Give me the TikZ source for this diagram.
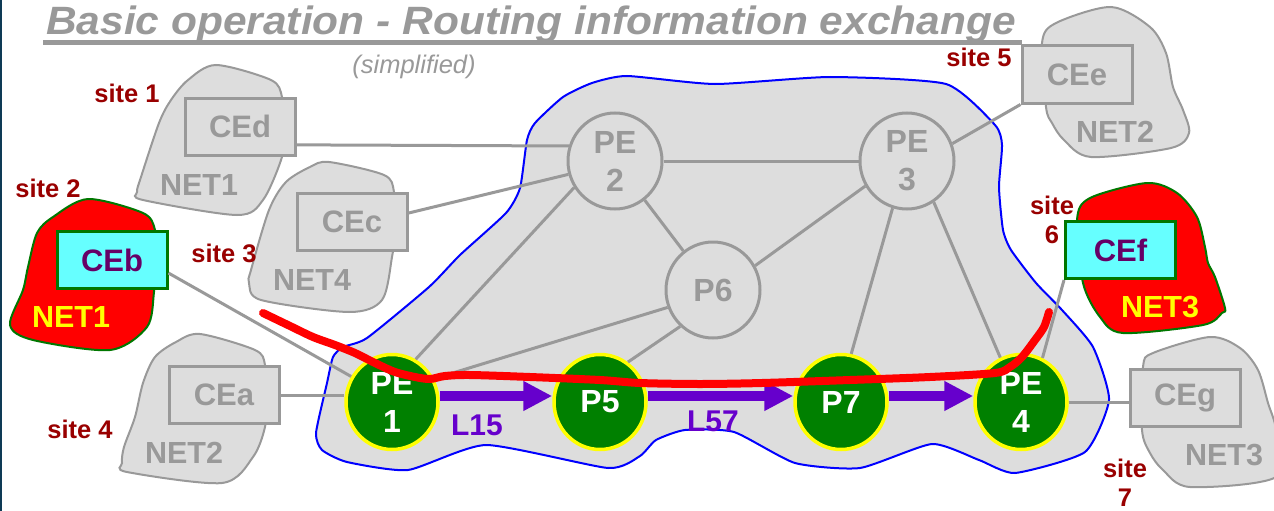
\documentclass[tikz,border=0pt]{standalone}
\usepackage{fontspec}
\setmainfont{Liberation Sans}
\usetikzlibrary{shapes.geometric,arrows.meta}
\definecolor{mgray}{HTML}{999999}
\definecolor{lgray}{HTML}{DDDDDD}
\definecolor{ggreen}{HTML}{008000}
\definecolor{dgreen}{HTML}{007700}
\definecolor{cyanb}{HTML}{66FFFF}
\definecolor{purp}{HTML}{6600CC}
\definecolor{plum}{HTML}{660066}
\definecolor{dred}{HTML}{990000}
\definecolor{yel}{HTML}{FFFF00}
\definecolor{stripc}{HTML}{0E3A55}
\definecolor{bblue}{HTML}{0000FF}
\definecolor{rred}{HTML}{FF0000}
\tikzset{
  blob/.style={fill=lgray, draw=mgray, line width=2pt},
  redblob/.style={fill=rred, draw=dgreen, line width=2pt},
  cebox/.style={rectangle, draw=mgray, fill=lgray, line width=3pt, text=mgray,
    font=\bfseries\fontsize{31}{36}\selectfont, minimum width=110pt, minimum height=57pt, inner sep=0pt},
  cebright/.style={cebox, draw=dgreen, fill=cyanb, text=plum},
  rnode/.style={ellipse, draw=mgray, line width=3pt, fill=lgray, text=mgray, align=center,
    font=\bfseries\fontsize{32}{38}\selectfont, minimum width=94pt, minimum height=96pt, inner sep=0pt},
  gnode/.style={rnode, draw=yel, line width=3.5pt, fill=ggreen, text=white, minimum width=92pt, minimum height=95pt},
  netlbl/.style={text=mgray, font=\bfseries\fontsize{30.5}{34}\selectfont, inner sep=0pt},
  netred/.style={netlbl, text=yel},
  sitelbl/.style={text=dred, font=\bfseries\fontsize{25.5}{29}\selectfont, align=center, inner sep=0pt},
  link/.style={draw=mgray, line width=3pt},
  parrow/.style={draw=purp, line width=10pt, -{Triangle[length=29pt,width=28pt]}},
  linklbl/.style={text=purp, font=\bfseries\fontsize{30}{34}\selectfont, inner sep=0pt},
  routepath/.style={draw=rred, line width=8pt, line cap=round, line join=round},
}
\begin{document}
\begin{tikzpicture}[x=1pt,y=-1pt]
\useasboundingbox (0,0) rectangle (1274,511);
\fill[white] (0,0) rectangle (1274,511);
\fill[stripc] (0,0) rectangle (2,511);

% title
\node[anchor=base west, inner sep=0pt, text=mgray, font=\bfseries\itshape\fontsize{39.5}{44}\selectfont] (title) at (46,35) {\scalebox{1.075}[1]{Basic operation - Routing information exchange}};
\draw[mgray, line width=4.5pt] (43,42.5) -- (1022,42.5);
\node[text=mgray, font=\itshape\fontsize{25.5}{30}\selectfont, inner sep=0pt] (simp) at (414,66.5) {(simplified)};

% customer site blobs
\draw[blob] plot[smooth cycle, tension=0.5] coordinates {(216,65) (271,80) (282,97) (284,130) (282,157) (263,200) (237,215) (143,200) (137,192) (141,177) (159,123) (171,100) (188,80)};
\draw[blob] plot[smooth cycle, tension=0.5] coordinates {(329,162) (384,175) (394,192) (395,230) (392,257) (382,300) (349,312) (261,300) (249,283) (251,270) (269,210) (286,182) (310,167)};
\draw[blob] plot[smooth cycle, tension=0.5] coordinates {(200,334) (255,350) (265,365) (266,400) (265,427) (253,457) (222,483) (127,472) (122,463) (124,447) (135,417) (143,383) (155,357) (176,342)};
\draw[blob] plot[smooth cycle, tension=0.5] coordinates {(1056,23) (1111,7) (1150,27) (1166,53) (1173,87) (1183,110) (1189,133) (1171,148) (1091,157) (1064,140) (1052,123) (1046,107) (1042,43)};
\draw[blob] plot[smooth cycle, tension=0.5] coordinates {(1153,353) (1210,337) (1240,348) (1258,370) (1268,403) (1276,430) (1276,477) (1190,487) (1163,470) (1150,453) (1142,430) (1143,367)};
\draw[redblob] plot[smooth cycle, tension=0.5] coordinates {(88,199) (143,213) (155,230) (156,260) (154,292) (147,327) (110,350) (33,340) (10,325) (23,290) (28,267) (37,233) (53,217)};
\draw[redblob] plot[smooth cycle, tension=0.5] coordinates {(1090,198) (1147,183) (1177,193) (1197,217) (1205,247) (1208,263) (1215,277) (1225,308) (1222,313) (1203,325) (1123,333) (1100,317) (1083,283) (1077,220)};

% provider cloud
\draw[fill=lgray, draw=bblue, line width=2pt] plot[smooth cycle, tension=0.35] coordinates {
 (627,76) (715,84) (830,77) (946,84) (995,125) (1002,145) (999,187) (1003,230) (1011,250)
 (1036,283) (1062,310) (1093,347) (1109,400) (1085,452) (1015,473) (979,460) (932,444)
 (860,468) (795,463) (734,432) (685,430) (656,440) (640,456) (608,468) (486,445) (408,470)
 (347,462) (322,450) (316,433) (327,383) (333,357) (343,347) (367,338) (429,287) (460,255)
 (506,213) (520,188) (527,140) (535,123) (563,97) (592,83)};

% CE boxes
\node[cebox] (CEd) at (240,126.5) {CEd};
\node[cebox] (CEc) at (352,222) {CEc};
\node[cebright] (CEb) at (112,260) {CEb};
\node[cebox] (CEa) at (224,395) {CEa};
\node[cebox] (CEe) at (1077,74.5) {CEe};
\node[cebright] (CEf) at (1120.5,250) {CEf};
\node[cebox] (CEg) at (1185,398) {CEg};

% network labels
\node[netlbl] (n1) at (199,185) {NET1};
\node[netlbl] (n4) at (312,280) {NET4};
\node[netlbl] (n2a) at (184,453) {NET2};
\node[netlbl] (n2b) at (1115,132) {NET2};
\node[netlbl] (n3b) at (1224,455) {NET3};
\node[netred] (n1r) at (71,317) {NET1};
\node[netred] (n3r) at (1160,307) {NET3};

% site labels
\node[sitelbl] (s1) at (127,93) {site 1};
\node[sitelbl] (s2) at (48,188) {site 2};
\node[sitelbl] (s3) at (224,253) {site 3};
\node[sitelbl] (s4) at (80,429) {site 4};
\node[sitelbl] (s5) at (979,57) {site 5};
\node[sitelbl] (s6) at (1052,220) {site\\6};
\node[sitelbl] (s7) at (1125,483) {site\\7};

% routers
\node[rnode] (PE2) at (615,161) {PE\\2};
\node[rnode] (PE3) at (907,161) {PE\\3};
\node[rnode] (P6) at (713,290) {P6};
\node[gnode] (PE1) at (392,402) {PE\\1};
\node[gnode] (P5) at (600,402) {P5};
\node[gnode] (P7) at (841,402) {P7};
\node[gnode] (PE4) at (1021,402) {PE\\4};

% links
\draw[link] (CEd.-18) -- (PE2.162);
\draw[link] (CEc.9) -- (PE2.196);
\draw[link] (PE2) -- (PE3);
\draw[link] (PE2) -- (P6);
\draw[link] (PE1.61) -- (PE2.213);
\draw[link] (PE3.211) -- (P6.30);
\draw[link] (PE3.21) -- (CEe.south west);
\draw[link] (PE3.253) -- (P7.78);
\draw[link] (PE3.303) -- (PE4.115);
\draw[link] (PE1.29) -- (P6.201);
\draw[link] (P5.55) -- (P6.228);
\draw[link] (CEb.-13) -- (PE1.148);
\draw[link] (CEa.east) -- (CEa.east -| PE1.west);
\draw[link] (CEf.south west) -- (PE4.64);
\draw[link] (PE4.east) -- (PE4.east -| CEg.west);

% label-switched path arrows
\draw[parrow] ([yshift=6pt]PE1.east) -- ([yshift=6pt]P5.west);
\draw[parrow] ([yshift=6pt]P5.east) -- ([yshift=6pt]P7.west);
\draw[parrow] ([yshift=6pt]P7.east) -- ([yshift=6pt]PE4.west);
\node[linklbl] (L15) at (477,425) {L15};
\node[linklbl] (L57) at (713,421) {L57};

% red route
\draw[routepath] plot[smooth, tension=0.5] coordinates {(263,313) (290,326) (313,337) (335,345) (355,353) (375,363) (395,372) (415,377) (430,379) (445,376) (470,375) (530,377) (600,380) (640,383) (700,384) (762,383) (850,380) (930,377) (995,373) (1010,367) (1022,357) (1035,340) (1044,327) (1049,312)};
\end{tikzpicture}
\end{document}
